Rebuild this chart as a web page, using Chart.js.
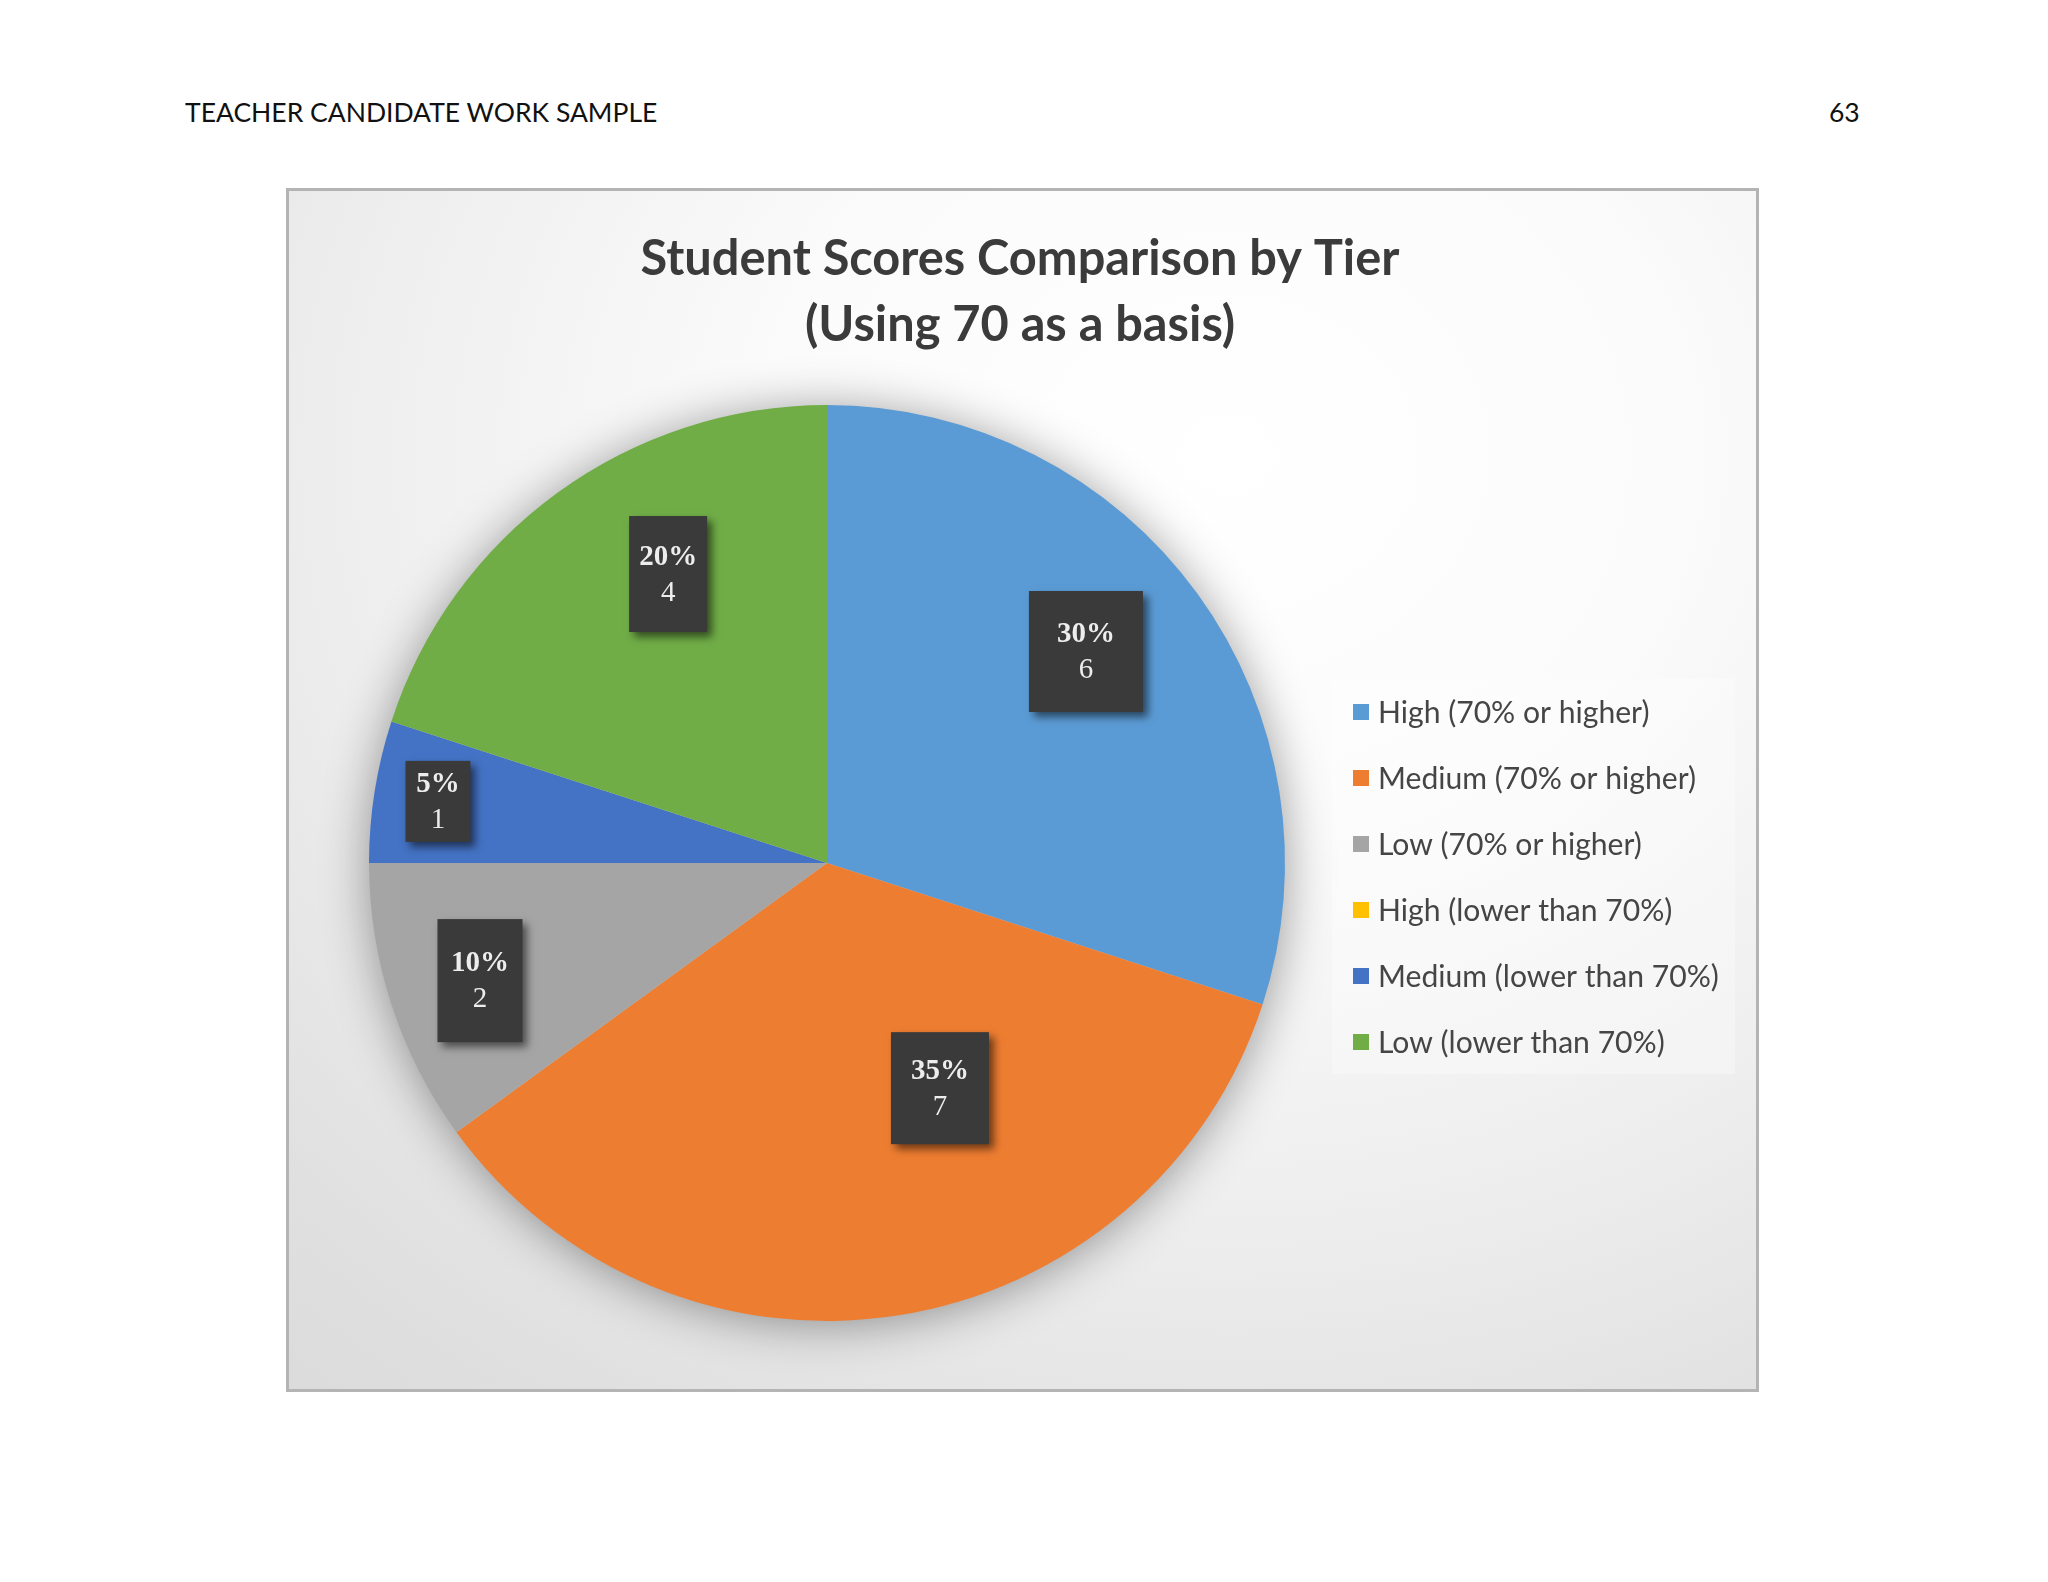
<!DOCTYPE html>
<html>
<head>
<meta charset="utf-8">
<script src="https://cdn.jsdelivr.net/npm/chart.js@4.4.1/dist/chart.umd.min.js"></script>
<style>
  html, body { margin:0; padding:0; background:#ffffff; }
  body { width:2048px; height:1582px; position:relative; overflow:hidden; }
  .hdr { position:absolute; top:96px; font-family:'Lato', 'Liberation Sans', sans-serif; font-size:26.5px; color:#111; }
  #hl { left:185px; }
  #hr { left:1829px; }
  #box { position:absolute; left:286px; top:188px; width:1467px; height:1198px;
         border:3px solid #b4b4b4;
         background: radial-gradient(ellipse 110% 115% at 64% 22%, #ffffff 0%, #fbfbfb 28%, #eeeeee 55%, #e0e0e0 78%, #d7d7d7 100%); }
  canvas { position:absolute; left:0; top:0; }
</style>
</head>
<body>
<div class="hdr" id="hl">TEACHER CANDIDATE WORK SAMPLE</div>
<div class="hdr" id="hr">63</div>
<div id="box"><canvas id="c" width="1467" height="1198"></canvas></div>
<script>
// ---- data ----
const titleLines = ['Student Scores Comparison by Tier', '(Using 70 as a basis)'];
const categories = ['High (70% or higher)', 'Medium (70% or higher)', 'Low (70% or higher)',
                    'High (lower than 70%)', 'Medium (lower than 70%)', 'Low (lower than 70%)'];
const counts = [6, 7, 2, 0, 1, 4];

// ---- style ----
const sliceColors = ['#5B9BD5', '#ED7D31', '#A5A5A5', '#FFC000', '#4472C4', '#70AD47'];
// label placement: t = fraction along slice angle, r = fraction of radius; box size w,h
const labelStyle = [
  {t:0.47, r:0.73, w:114, h:121},
  {t:0.36, r:0.55, w:98,  h:112},
  {t:0.48, r:0.80, w:85,  h:123},
  null,
  {t:0.50, r:0.86, w:65,  h:81},
  {t:0.60, r:0.72, w:78,  h:116}
];

function fitSize(ctx, text, weight, family, target) {
  ctx.font = weight + ' 100px ' + family;
  const w = ctx.measureText(text).width;
  return 100 * target / w;
}

const decor = {
  id: 'decor',
  beforeDraw(chart) {
    const ctx = chart.ctx;
    ctx.save();
    ctx.fillStyle = 'rgba(255,255,255,0.30)';
    ctx.fillRect(1043, 488, 403, 395);
    ctx.restore();
  },
  beforeDatasetsDraw(chart) {
    const ctx = chart.ctx;
    const arc = chart.getDatasetMeta(0).data[0];
    ctx.save();
    ctx.shadowColor = 'rgba(0,0,0,0.42)';
    ctx.shadowBlur = 50;
    ctx.shadowOffsetX = 0;
    ctx.shadowOffsetY = 4;
    ctx.fillStyle = '#cccccc';
    ctx.beginPath();
    ctx.arc(arc.x, arc.y, arc.outerRadius - 2, 0, Math.PI * 2);
    ctx.fill();
    ctx.restore();
  },
  afterDatasetsDraw(chart) {
    const ctx = chart.ctx;
    const meta = chart.getDatasetMeta(0);
    const total = counts.reduce((a, b) => a + b, 0);
    meta.data.forEach((arc, i) => {
      const st = labelStyle[i];
      if (!st || counts[i] === 0) return;
      const a = arc.startAngle + (arc.endAngle - arc.startAngle) * st.t;
      const rr = arc.outerRadius * st.r;
      const cx = arc.x + Math.cos(a) * rr;
      const cy = arc.y + Math.sin(a) * rr;
      ctx.save();
      ctx.shadowColor = 'rgba(0,0,0,0.55)';
      ctx.shadowBlur = 8;
      ctx.shadowOffsetX = 5;
      ctx.shadowOffsetY = 5;
      ctx.fillStyle = '#3a3a3a';
      ctx.fillRect(cx - st.w / 2, cy - st.h / 2, st.w, st.h);
      ctx.restore();
      ctx.save();
      ctx.fillStyle = '#ededed';
      ctx.textAlign = 'center';
      ctx.textBaseline = 'middle';
      ctx.font = 'bold 29px "Liberation Serif", "DejaVu Serif", serif';
      ctx.fillText(Math.round(counts[i] / total * 100) + '%', cx, cy - 17);
      ctx.font = '29px "Liberation Serif", "DejaVu Serif", serif';
      ctx.fillText(String(counts[i]), cx, cy + 19);
      ctx.restore();
    });
  },
  afterDraw(chart) {
    const ctx = chart.ctx;
    ctx.save();
    const ts = fitSize(ctx, titleLines[0], 'bold', 'Lato', 759);
    ctx.font = 'bold ' + ts + 'px Lato';
    ctx.fillStyle = '#3b3b3b';
    ctx.textAlign = 'center';
    ctx.textBaseline = 'alphabetic';
    ctx.fillText(titleLines[0], 731, 84);
    ctx.fillText(titleLines[1], 731, 150);
    ctx.restore();
    ctx.save();
    const ls = fitSize(ctx, categories[4], 'normal', 'Lato', 341);
    ctx.font = ls + 'px Lato';
    ctx.textAlign = 'left';
    ctx.textBaseline = 'middle';
    categories.forEach((c, i) => {
      const y = 521 + i * 66;
      ctx.fillStyle = sliceColors[i];
      ctx.fillRect(1064, y - 8, 16, 16);
      ctx.fillStyle = '#454545';
      ctx.fillText(c, 1089, y + 1);
    });
    ctx.restore();
  }
};

new Chart(document.getElementById('c'), {
  type: 'pie',
  data: {
    labels: categories,
    datasets: [{
      data: counts,
      backgroundColor: sliceColors,
      borderWidth: 0
    }]
  },
  options: {
    responsive: false,
    animation: false,
    devicePixelRatio: 1,
    layout: { padding: { left: 80, right: 471, top: 214, bottom: 68 } },
    plugins: {
      legend: { display: false },
      title: { display: false },
      tooltip: { enabled: false }
    }
  },
  plugins: [decor]
});
</script>
</body>
</html>
